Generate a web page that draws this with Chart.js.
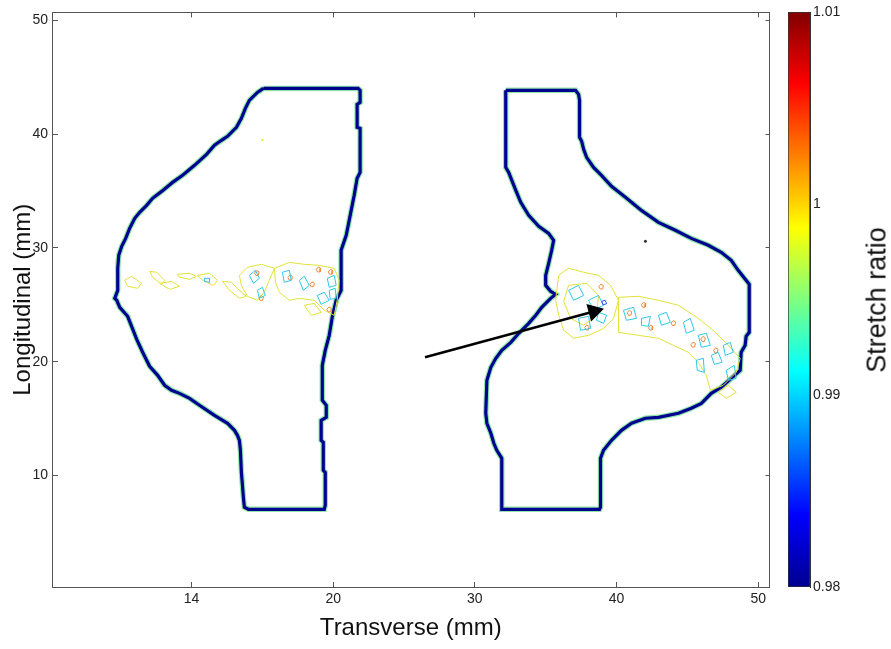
<!DOCTYPE html>
<html>
<head>
<meta charset="utf-8">
<script src="https://cdn.jsdelivr.net/npm/chart.js@4"></script>
<style>
  body { margin: 0; background: #fff; width: 891px; height: 649px; overflow: hidden; position: relative; font-family: "Liberation Sans", Arial, sans-serif; }
  #mainBox { position: absolute; left: 0; top: 0; width: 780px; height: 649px; }
  #barBox { position: absolute; left: 780px; top: 0; width: 111px; height: 649px; }
  #cbTitle { position: absolute; left: 877px; top: 300px; transform: translate(-50%, -50%) rotate(-90deg); font-size: 27px; color: #111; white-space: nowrap; }
</style>
</head>
<body>
<div id="mainBox"><canvas id="myChart"></canvas></div>
<div id="barBox"><canvas id="colorBar"></canvas></div>
<div id="cbTitle">Stretch ratio</div>
<script>
// axes
const xTicks = [10, 20, 30, 40, 50];
const xTickLabels = ['14', '20', '30', '40', '50'];
const yTicks = [10, 20, 30, 40, 50];
const colorTicks = [0.98, 0.99, 1, 1.01];
const colorTickLabels = ['0.98', '0.99', '1', '1.01'];

// outer contour of the left section
const leftOutline = [
  [15.07, 44.02], [21.76, 44.02], [21.90, 43.85], [21.90, 42.79], [21.69, 42.62], [21.69, 40.60],
  [21.90, 40.51], [21.90, 36.64], [21.69, 36.12], [21.48, 34.62], [21.20, 32.86], [20.92, 31.11],
  [20.56, 29.79], [20.56, 26.27], [20.21, 25.40], [19.93, 23.90], [19.72, 22.32], [19.44, 21.00],
  [19.23, 19.68], [19.23, 16.61], [19.51, 16.17], [19.51, 15.11], [19.15, 14.85], [19.15, 13.09],
  [19.30, 12.92], [19.30, 10.46], [19.44, 10.28], [19.44, 7.38], [19.37, 7.03], [14.01, 7.03],
  [13.73, 7.21], [13.66, 8.08], [13.52, 10.28], [13.45, 12.21], [13.38, 13.09], [13.24, 13.53],
  [13.03, 13.97], [12.54, 14.59], [11.62, 15.29], [10.56, 16.17], [9.86, 16.78], [9.15, 17.22],
  [8.59, 17.49], [8.10, 17.93], [7.61, 18.80], [7.04, 19.60], [6.55, 20.83], [6.13, 21.97],
  [5.77, 23.11], [5.49, 23.99], [4.93, 24.78], [4.72, 25.40], [4.58, 25.57], [4.79, 26.27],
  [4.79, 28.21], [4.86, 29.35], [5.07, 30.14], [5.35, 30.84], [5.63, 31.72], [5.99, 32.60],
  [6.34, 33.13], [6.83, 33.74], [7.25, 34.36], [7.89, 34.97], [8.66, 35.76], [9.37, 36.38],
  [10.21, 37.26], [11.06, 38.22], [11.62, 39.02], [12.11, 39.46], [12.54, 39.81], [13.17, 40.60],
  [13.52, 41.39], [13.80, 42.27], [14.08, 42.97], [14.65, 43.67], [15.07, 44.02]
];

// outer contour of the right section
const rightOutline = [
  [32.18, 43.85], [37.11, 43.85], [37.32, 43.50], [37.39, 42.97], [37.39, 39.72], [37.54, 39.37],
  [37.68, 38.66], [37.89, 37.96], [38.38, 37.08], [38.94, 36.38], [39.65, 35.41], [40.63, 34.45],
  [41.76, 33.30], [42.96, 32.25], [44.15, 31.55], [45.28, 30.84], [46.48, 30.23], [47.39, 29.61],
  [48.10, 28.91], [48.59, 28.03], [49.15, 27.15], [49.37, 26.80], [49.37, 22.58], [49.15, 22.23],
  [49.08, 21.44], [48.80, 20.83], [48.73, 19.24], [48.10, 18.54], [47.39, 17.75], [46.69, 17.22],
  [45.99, 16.34], [45.28, 15.91], [44.37, 15.47], [42.96, 15.11], [42.04, 15.03], [41.06, 14.59],
  [40.35, 13.97], [39.65, 13.09], [39.08, 12.21], [38.87, 11.51], [38.87, 7.21], [38.80, 7.03],
  [31.90, 7.03], [31.90, 11.51], [31.55, 12.21], [31.34, 12.83], [31.13, 13.71], [30.85, 14.59],
  [30.77, 15.47], [30.85, 18.37], [31.13, 19.51], [31.48, 20.30], [31.90, 21.00], [32.54, 21.70],
  [33.10, 22.50], [33.80, 23.37], [34.30, 24.08], [34.72, 24.78], [35.35, 25.57], [35.70, 25.92],
  [35.35, 26.19], [35.00, 26.71], [35.00, 27.59], [35.21, 28.65], [35.42, 29.79], [35.56, 30.67],
  [35.21, 31.28], [34.51, 31.90], [33.80, 32.86], [33.24, 34.01], [32.89, 35.06], [32.61, 35.94],
  [32.39, 36.64], [32.18, 37.08], [32.18, 43.85]
];

// inner stretch-ratio contours (closed loops)
const yellowLoops = [
  [[5.28, 27.15], [5.77, 27.50], [6.48, 26.89], [6.20, 26.45], [5.49, 26.63]],
  [[7.04, 27.94], [7.54, 27.86], [8.10, 27.15], [7.89, 26.80], [7.25, 27.42]],
  [[7.75, 26.89], [8.59, 27.06], [9.15, 26.63], [8.45, 26.36]],
  [[9.01, 27.69], [9.86, 27.77], [10.35, 27.50], [9.86, 27.24], [9.15, 27.42]],
  [[10.42, 27.59], [11.27, 27.77], [11.83, 27.15], [11.55, 26.71], [10.77, 27.15]],
  [[12.18, 27.06], [12.82, 26.98], [13.38, 26.27], [13.87, 25.75], [13.38, 25.57], [12.68, 26.27]],
  [[13.38, 27.59], [13.94, 28.30], [14.93, 28.56], [15.85, 28.21], [15.49, 27.15], [15.14, 26.10],
   [14.65, 25.40], [13.94, 25.75], [13.52, 26.71]],
  [[15.85, 28.21], [16.90, 28.73], [17.96, 28.56], [19.01, 28.47], [20.07, 28.21], [20.42, 27.15],
   [20.28, 25.40], [20.07, 24.08], [19.37, 24.52], [18.66, 25.40], [17.61, 25.57], [16.90, 25.40],
   [16.20, 26.10], [15.92, 26.98]],
  [[17.96, 24.96], [18.66, 25.13], [19.15, 24.34], [18.45, 24.08]],
  [[35.92, 27.59], [36.62, 28.21], [37.68, 27.86], [38.73, 27.59], [39.58, 26.71], [40.14, 25.40],
   [39.79, 23.81], [39.08, 22.93], [38.03, 22.32], [36.97, 22.06], [36.27, 22.76], [35.92, 24.08],
   [35.70, 25.40]],
  [[36.62, 26.71], [37.89, 26.89], [38.73, 25.83], [38.59, 24.08], [37.68, 23.20], [36.76, 23.81],
   [36.27, 25.31]],
  [[40.14, 25.66], [41.55, 25.75], [42.96, 25.40], [44.37, 24.96], [45.77, 23.81], [46.83, 22.76],
   [47.89, 21.44], [48.73, 20.30], [48.45, 19.07], [47.54, 17.93], [46.62, 17.49], [46.34, 18.80],
   [45.77, 19.95], [45.07, 20.83], [44.01, 21.44], [42.96, 22.06], [41.55, 22.32], [40.14, 22.58]],
  [[47.18, 17.31], [47.89, 17.93], [48.45, 17.31], [47.75, 16.78]]
];

const cyanLoops = [
  [[10.92, 27.33], [11.27, 27.33], [11.27, 26.98], [10.92, 27.06]],
  [[14.08, 27.59], [14.51, 28.03], [14.79, 27.33], [14.37, 26.89]],
  [[14.65, 26.27], [15.00, 26.54], [15.21, 25.83], [14.79, 25.57]],
  [[16.41, 27.86], [16.90, 28.03], [17.04, 27.15], [16.55, 26.98]],
  [[17.61, 27.15], [17.96, 27.50], [18.31, 26.71], [17.89, 26.27]],
  [[18.87, 25.83], [19.37, 26.10], [19.72, 25.40], [19.15, 25.04]],
  [[19.58, 27.33], [20.07, 27.59], [20.21, 26.71], [19.72, 26.54]],
  [[19.72, 26.27], [20.14, 26.45], [20.21, 25.57], [19.79, 25.48]],
  [[36.62, 26.27], [37.32, 26.71], [37.68, 25.83], [36.97, 25.40]],
  [[38.03, 25.40], [38.73, 25.83], [39.08, 24.96], [38.38, 24.52]],
  [[37.32, 23.81], [38.03, 23.99], [38.17, 22.93], [37.46, 22.76]],
  [[38.73, 24.34], [39.30, 24.08], [39.08, 23.37], [38.59, 23.64]],
  [[40.49, 24.52], [41.20, 24.78], [41.41, 23.81], [40.70, 23.64]],
  [[41.76, 23.81], [42.39, 23.99], [42.25, 23.11], [41.76, 23.20]],
  [[42.96, 24.08], [43.52, 24.34], [43.80, 23.46], [43.17, 23.20]],
  [[44.72, 23.46], [45.21, 23.81], [45.49, 22.76], [44.93, 22.50]],
  [[45.77, 22.32], [46.34, 22.50], [46.62, 21.44], [45.99, 21.27]],
  [[46.69, 20.56], [47.18, 20.83], [47.46, 19.95], [46.90, 19.77]],
  [[45.63, 20.12], [46.13, 20.30], [46.20, 19.07], [45.70, 19.24]],
  [[47.54, 21.44], [48.03, 21.70], [48.24, 20.83], [47.68, 20.56]],
  [[47.75, 19.24], [48.31, 19.68], [48.45, 18.54], [47.89, 18.37]]
];

const orangeLoops = [
  [[16.80, 27.40], [16.95, 27.62], [17.12, 27.50], [17.07, 27.20], [16.90, 27.18]],
  [[18.80, 28.10], [18.95, 28.32], [19.12, 28.20], [19.07, 27.90], [18.90, 27.88]],
  [[19.65, 27.90], [19.80, 28.12], [19.97, 28.00], [19.92, 27.70], [19.75, 27.68]],
  [[18.35, 26.80], [18.50, 27.02], [18.67, 26.90], [18.62, 26.60], [18.45, 26.58]],
  [[14.75, 25.60], [14.90, 25.82], [15.07, 25.70], [15.02, 25.40], [14.85, 25.38]],
  [[14.45, 27.80], [14.60, 28.02], [14.77, 27.90], [14.72, 27.60], [14.55, 27.58]],
  [[19.55, 24.60], [19.70, 24.82], [19.87, 24.70], [19.82, 24.40], [19.65, 24.38]],
  [[38.75, 26.60], [38.90, 26.82], [39.07, 26.70], [39.02, 26.40], [38.85, 26.38]],
  [[40.75, 24.30], [40.90, 24.52], [41.07, 24.40], [41.02, 24.10], [40.85, 24.08]],
  [[41.75, 25.00], [41.90, 25.22], [42.07, 25.10], [42.02, 24.80], [41.85, 24.78]],
  [[42.25, 23.00], [42.40, 23.22], [42.57, 23.10], [42.52, 22.80], [42.35, 22.78]],
  [[43.85, 23.40], [44.00, 23.62], [44.17, 23.50], [44.12, 23.20], [43.95, 23.18]],
  [[45.25, 21.50], [45.40, 21.72], [45.57, 21.60], [45.52, 21.30], [45.35, 21.28]],
  [[45.95, 22.00], [46.10, 22.22], [46.27, 22.10], [46.22, 21.80], [46.05, 21.78]],
  [[46.85, 21.00], [47.00, 21.22], [47.17, 21.10], [47.12, 20.80], [46.95, 20.78]],
  [[37.75, 23.00], [37.90, 23.22], [38.07, 23.10], [38.02, 22.80], [37.85, 22.78]]
];

const blueLoops = [
  [[38.95, 25.30], [39.20, 25.40], [39.30, 25.10], [39.05, 25.00]]
];

const specks = [[42.04, 30.58]];
const yellowSpecks = [[15.00, 39.50]];

// arrow: tail, head
const arrowLine = [[26.48, 20.39], [38.40, 24.42]];

const jetStops = [[0, '#00008f'], [0.125, '#0000ff'], [0.375, '#00ffff'], [0.625, '#ffff00'], [0.875, '#ff0000'], [1, '#800000']];

Chart.defaults.font.family = '"Liberation Sans", Arial, sans-serif';

function toXY(pts) {
  return pts.map(p => ({ x: p[0], y: p[1] }));
}

function lineSet(pts, color, width, order) {
  return {
    data: toXY(pts), showLine: true, borderColor: color, borderWidth: width,
    pointRadius: 0, tension: 0, order: order, xAxisID: 'x', yAxisID: 'y'
  };
}

function loopSets(loops, color, width, order) {
  return loops.map(l => lineSet(l.concat([l[0]]), color, width, order));
}

const datasets = [
  lineSet(leftOutline, '#8fe6a8', 5.5, 5),
  lineSet(rightOutline, '#8fe6a8', 5.5, 5),
  lineSet(leftOutline, '#000090', 3.2, 4),
  lineSet(rightOutline, '#000090', 3.2, 4),
  ...loopSets(yellowLoops, '#e2e23a', 1, 3),
  ...loopSets(cyanLoops, '#2ec8e8', 1, 2),
  ...loopSets(orangeLoops, '#f0883a', 1, 2),
  ...loopSets(blueLoops, '#2050ff', 1, 1),
  { data: toXY(specks), pointRadius: 1.5, pointBackgroundColor: '#333', pointBorderWidth: 0, order: 1, xAxisID: 'x', yAxisID: 'y' },
  { data: toXY(yellowSpecks), pointRadius: 1.2, pointBackgroundColor: '#e8e840', pointBorderWidth: 0, order: 1, xAxisID: 'x', yAxisID: 'y' },
  {
    data: toXY(arrowLine), showLine: true, borderColor: '#000', borderWidth: 2.5,
    pointRadius: c => c.dataIndex === 1 ? 8 : 0, pointStyle: 'triangle', rotation: 75,
    pointBackgroundColor: '#000', pointBorderColor: '#000', order: 0, xAxisID: 'x', yAxisID: 'y'
  }
];

const ctx = document.getElementById('myChart').getContext('2d');
new Chart(ctx, {
  type: 'scatter',
  data: { datasets },
  options: {
    responsive: true,
    maintainAspectRatio: false,
    animation: false,
    layout: { padding: { top: 12, right: 9, left: 0, bottom: 0 } },
    plugins: { legend: { display: false }, tooltip: { enabled: false } },
    scales: {
      x: {
        type: 'linear', position: 'bottom', min: 0.15, max: 50.8,
        afterBuildTicks: s => { s.ticks = xTicks.map(v => ({ value: v })); },
        afterFit: s => { s.height = 62; },
        ticks: {
          callback: v => xTickLabels[xTicks.indexOf(v)],
          font: { size: 14 }, color: '#222', padding: 4, maxRotation: 0, autoSkip: false
        },
        grid: { drawTicks: false, color: '#555', lineWidth: 1 },
        border: { color: '#555', dash: c => [5, c.chart.chartArea.height - 10, 5] },
        title: { display: true, text: 'Transverse (mm)', font: { size: 24 }, color: '#111', padding: { top: 0, bottom: 6 } }
      },
      y: {
        type: 'linear', position: 'left', min: 0.2, max: 50.7,
        afterBuildTicks: s => { s.ticks = yTicks.map(v => ({ value: v })); },
        afterFit: s => { s.width = 52; },
        ticks: { font: { size: 14 }, color: '#222', padding: 4, autoSkip: false },
        grid: { drawTicks: false, color: '#555', lineWidth: 1 },
        border: { color: '#555', dash: c => [5, c.chart.chartArea.width - 10, 5] },
        title: { display: true, text: 'Longitudinal (mm)', font: { size: 24 }, color: '#111', padding: { top: 9, bottom: 0 } }
      },
      x2: {
        type: 'linear', position: 'top', min: 0.15, max: 50.8,
        afterFit: s => { s.height = 0; },
        ticks: { display: false }, grid: { display: false, drawTicks: false },
        border: { display: true, color: '#555' }
      },
      y2: {
        type: 'linear', position: 'right', min: 0.2, max: 50.7,
        afterFit: s => { s.width = 0; },
        ticks: { display: false }, grid: { display: false, drawTicks: false },
        border: { display: true, color: '#555' }
      }
    }
  }
});

function jetGradient(c) {
  const a = c.chart.chartArea;
  if (!a) return '#888';
  const g = c.chart.ctx.createLinearGradient(0, a.bottom, 0, a.top);
  jetStops.forEach(s => g.addColorStop(s[0], s[1]));
  return g;
}

new Chart(document.getElementById('colorBar'), {
  type: 'bar',
  data: {
    labels: [''],
    datasets: [{
      data: [[colorTicks[0], colorTicks[colorTicks.length - 1]]],
      backgroundColor: jetGradient, borderColor: '#333', borderWidth: 1, borderSkipped: false,
      categoryPercentage: 1, barPercentage: 1
    }]
  },
  options: {
    responsive: true,
    maintainAspectRatio: false,
    animation: false,
    layout: { padding: { left: 8, top: 12, bottom: 62, right: 0 } },
    plugins: { legend: { display: false }, tooltip: { enabled: false } },
    scales: {
      x: { display: false },
      y: {
        position: 'right', min: 0.98, max: 1.01,
        afterBuildTicks: s => { s.ticks = colorTicks.map(v => ({ value: v })); },
        afterFit: s => { s.width = 81; },
        ticks: { callback: v => colorTickLabels[colorTicks.indexOf(v)], font: { size: 14 }, color: '#222', padding: 3 },
        grid: { drawTicks: false, drawOnChartArea: false, color: '#333' },
        border: { display: true, color: '#333' }
      }
    }
  }
});
</script>
</body>
</html>
